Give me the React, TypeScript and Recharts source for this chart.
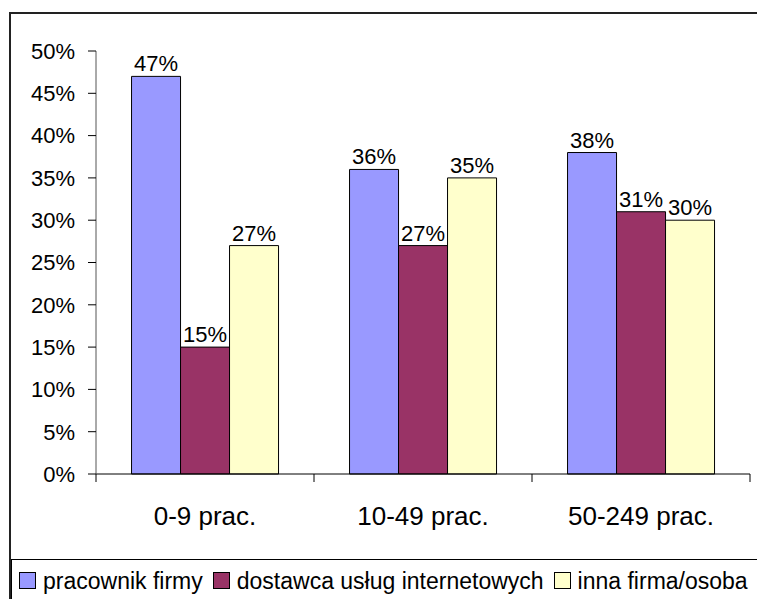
import { Bar, BarChart, LabelList, XAxis, YAxis } from "recharts";

const categories = ["0-9 prac.", "10-49 prac.", "50-249 prac."];
const pracownik = [47, 36, 38];
const dostawca = [15, 27, 31];
const innaFirma = [27, 35, 30];
const yTicks = [0, 5, 10, 15, 20, 25, 30, 35, 40, 45, 50];

const seriesNames = ["pracownik firmy", "dostawca usług internetowych", "inna firma/osoba"];

const BLUE = "#9999FF";
const MAROON = "#993366";
const CREAM = "#FFFFCC";
const FONT = '"Liberation Sans", Arial, sans-serif';

const data = categories.map((cat, i) => ({
  cat,
  a: pracownik[i],
  b: dostawca[i],
  c: innaFirma[i],
}));

const W = 757;
const H = 599;
const PLOT_LEFT = 96;
const PLOT_RIGHT = 7;
const BAND = (W - PLOT_LEFT - PLOT_RIGHT) / categories.length;

const pct = (v: number) => `${v}%`;

// category label plus tick marks on the band boundaries
function CategoryTick(props: any) {
  const { x, y, payload, index } = props;
  const half = BAND / 2;
  return (
    <g>
      <line x1={x - half} y1={y - 8} x2={x - half} y2={y} stroke="#000" />
      {index === categories.length - 1 && (
        <line x1={x + half} y1={y - 8} x2={x + half} y2={y} stroke="#000" />
      )}
      <text
        x={x}
        y={y + 43}
        textAnchor="middle"
        fontSize={26}
        fontFamily={FONT}
        fill="#000"
      >
        {payload.value}
      </text>
    </g>
  );
}

const labelStyle = { fontSize: 22, fontFamily: FONT, fill: "#000" };

function LegendBox() {
  const colors = [BLUE, MAROON, CREAM];
  return (
    <div
      style={{
        position: "absolute",
        left: 11,
        top: 559,
        width: W,
        height: 42,
        borderTop: "1px solid #000",
        borderLeft: "1px solid #000",
        display: "flex",
        alignItems: "center",
        paddingLeft: 7,
        boxSizing: "border-box",
        fontFamily: FONT,
        fontSize: 23,
        whiteSpace: "nowrap",
      }}
    >
      {seriesNames.map((name, i) => (
        <span
          key={name}
          style={{
            display: "inline-flex",
            alignItems: "center",
            marginRight: 10,
            lineHeight: "26px",
          }}
        >
          <span
            style={{
              display: "inline-block",
              width: 15,
              height: 15,
              background: colors[i],
              border: "1px solid #000",
              marginRight: 7,
            }}
          />
          {name}
        </span>
      ))}
    </div>
  );
}

export default function App() {
  return (
    <div
      style={{
        position: "absolute",
        left: 0,
        top: 0,
        width: W,
        height: H,
        overflow: "hidden",
        background: "#fff",
      }}
    >
      <div
        style={{
          position: "absolute",
          left: 9,
          top: 12,
          width: W,
          height: H,
          borderTop: "2px solid #222",
          borderLeft: "2px solid #222",
        }}
      />
      <BarChart
        width={W}
        height={H}
        data={data}
        margin={{ top: 51, right: PLOT_RIGHT, left: 10, bottom: 0 }}
        barCategoryGap="16.3%"
        barGap={0}
      >
        <XAxis
          dataKey="cat"
          height={125}
          axisLine={{ stroke: "#000" }}
          tickLine={false}
          tickSize={8}
          tickMargin={0}
          tick={<CategoryTick />}
          interval={0}
        />
        <YAxis
          width={86}
          domain={[0, 50]}
          ticks={yTicks}
          tickFormatter={pct}
          axisLine={{ stroke: "#555" }}
          tickLine={{ stroke: "#000" }}
          tickSize={8}
          tickMargin={13}
          tick={{ fontSize: 22, fontFamily: FONT, fill: "#000" }}
          interval={0}
        />
        <Bar dataKey="a" fill={BLUE} stroke="#000" strokeWidth={1} isAnimationActive={false}>
          <LabelList dataKey="a" position="top" offset={5} formatter={pct} style={labelStyle} />
        </Bar>
        <Bar dataKey="b" fill={MAROON} stroke="#000" strokeWidth={1} isAnimationActive={false}>
          <LabelList dataKey="b" position="top" offset={5} formatter={pct} style={labelStyle} />
        </Bar>
        <Bar dataKey="c" fill={CREAM} stroke="#000" strokeWidth={1} isAnimationActive={false}>
          <LabelList dataKey="c" position="top" offset={5} formatter={pct} style={labelStyle} />
        </Bar>
      </BarChart>
      <LegendBox />
    </div>
  );
}
